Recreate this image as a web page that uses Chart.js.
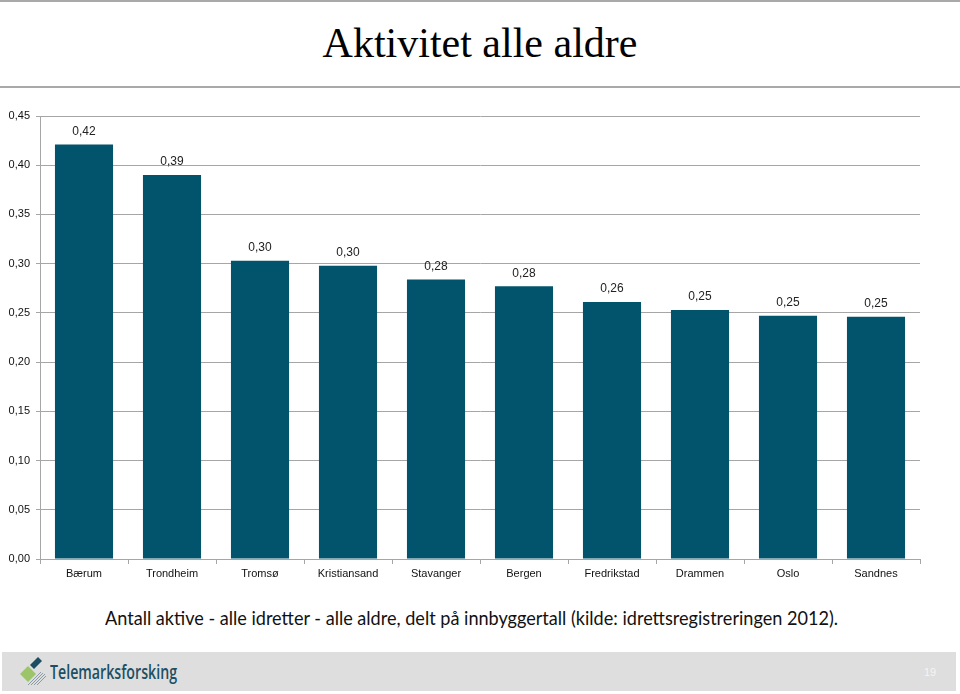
<!DOCTYPE html>
<html>
<head>
<meta charset="utf-8">
<script src="https://cdn.jsdelivr.net/npm/chart.js@4"></script>
<style>
  html, body { margin: 0; padding: 0; background: #fff; }
  body { width: 960px; height: 694px; position: relative; overflow: hidden; }
  .rule { position: absolute; left: 0; width: 960px; height: 2px; background: #a9a9a9; }
  #title { position: absolute; left: 0; top: 22px; width: 960px; text-align: center;
    font-family: "Liberation Serif", serif; font-size: 42px; line-height: 42px; color: #000; }
  #chartBox { position: absolute; left: 0; top: 100px; width: 960px; height: 490px; }
  #subtitle { position: absolute; left: 105px; top: 606px; white-space: nowrap;
    font-family: Lato, sans-serif; font-size: 19px; line-height: 24px; color: #111; transform-origin: 0 0; }
  #footer { position: absolute; left: 2px; top: 652px; width: 954px; height: 39px; background: #dedede; }
  #logoText { position: absolute; left: 48px; top: 8px; font-family: "Open Sans", sans-serif; font-weight: 600;
    font-size: 19px; line-height: 24px; color: #1c4f63; white-space: nowrap; transform-origin: 0 0; }
  #pageNo { position: absolute; left: 922px; top: 14px; font-family: "Liberation Sans", Arial, sans-serif;
    font-size: 11px; color: #f4f4f4; }
</style>
</head>
<body>
<div class="rule" style="top:0"></div>
<div class="rule" style="top:86px"></div>
<div id="title">Aktivitet alle aldre</div>
<div id="chartBox"><canvas id="chart"></canvas></div>
<div id="subtitle">Antall aktive - alle idretter - alle aldre, delt på innbyggertall (kilde: idrettsregistreringen 2012).</div>
<div id="footer">
  <svg width="40" height="39" style="position:absolute;left:12px;top:0">
    <polygon points="16,13 24,5 28,9 20,17" fill="#1c4f63"/>
    <polygon points="6,22 14,14 22,22 14,30" fill="#9cc46a"/>
    <g stroke="#8a9aa6" stroke-width="1">
      <line x1="14" y1="33" x2="27" y2="20"/>
      <line x1="17" y1="33" x2="29" y2="21"/>
      <line x1="20" y1="33" x2="31" y2="22"/>
      <line x1="23" y1="33" x2="32" y2="24"/>
    </g>
  </svg>
  <div id="logoText">Telemarksforsking</div>
  <div id="pageNo">19</div>
</div>
<script>
const cities = ["Bærum", "Trondheim", "Tromsø", "Kristiansand", "Stavanger", "Bergen", "Fredrikstad", "Drammen", "Oslo", "Sandnes"];
const activity = [0.421, 0.390, 0.303, 0.298, 0.284, 0.277, 0.261, 0.253, 0.247, 0.246];
const yTicks = [0, 0.05, 0.10, 0.15, 0.20, 0.25, 0.30, 0.35, 0.40, 0.45];

function fmt(v) {
  return v.toFixed(2).replace(".", ",");
}

// fit text boxes to the widths in the picture
function fitWidth(id, w) {
  const el = document.getElementById(id);
  el.style.transform = "scaleX(" + (w / el.getBoundingClientRect().width) + ")";
}
fitWidth("subtitle", 733);
fitWidth("logoText", 127);

const barLabels = {
  id: "barLabels",
  afterDatasetsDraw(chart) {
    const c = chart.ctx;
    const meta = chart.getDatasetMeta(0);
    c.save();
    c.font = "12px 'Liberation Sans', Arial, sans-serif";
    c.fillStyle = "#222";
    c.textAlign = "center";
    c.textBaseline = "middle";
    meta.data.forEach((bar, i) => {
      c.fillText(fmt(activity[i]), bar.x, bar.y - 13);
    });
    c.restore();
  }
};

const axisFont = { family: "'Liberation Sans', Arial, sans-serif", size: 11 };

new Chart(document.getElementById("chart"), {
  type: "bar",
  data: {
    labels: cities,
    datasets: [{
      data: activity,
      backgroundColor: "#02546c",
      categoryPercentage: 1,
      barPercentage: 0.66
    }]
  },
  options: {
    responsive: true,
    maintainAspectRatio: false,
    animation: false,
    layout: { padding: { left: 0, right: 40, top: 16, bottom: 0 } },
    plugins: {
      legend: { display: false },
      tooltip: { enabled: false }
    },
    scales: {
      x: {
        grid: { drawOnChartArea: false, tickLength: 5, color: "#a6a6a6" },
        border: { color: "#a6a6a6" },
        ticks: { font: axisFont, color: "#111", padding: 3, maxRotation: 0, autoSkip: false },
        afterFit: (s) => { s.height = 31; }
      },
      y: {
        min: 0,
        max: 0.45,
        afterBuildTicks: (s) => { s.ticks = yTicks.map((v) => ({ value: v })); },
        grid: { color: "#a6a6a6", tickLength: 4 },
        border: { color: "#a6a6a6" },
        ticks: { font: axisFont, color: "#111", padding: 6, callback: (v) => fmt(v) },
        afterFit: (s) => { s.width = 40; }
      }
    }
  },
  plugins: [barLabels]
});
</script>
</body>
</html>
